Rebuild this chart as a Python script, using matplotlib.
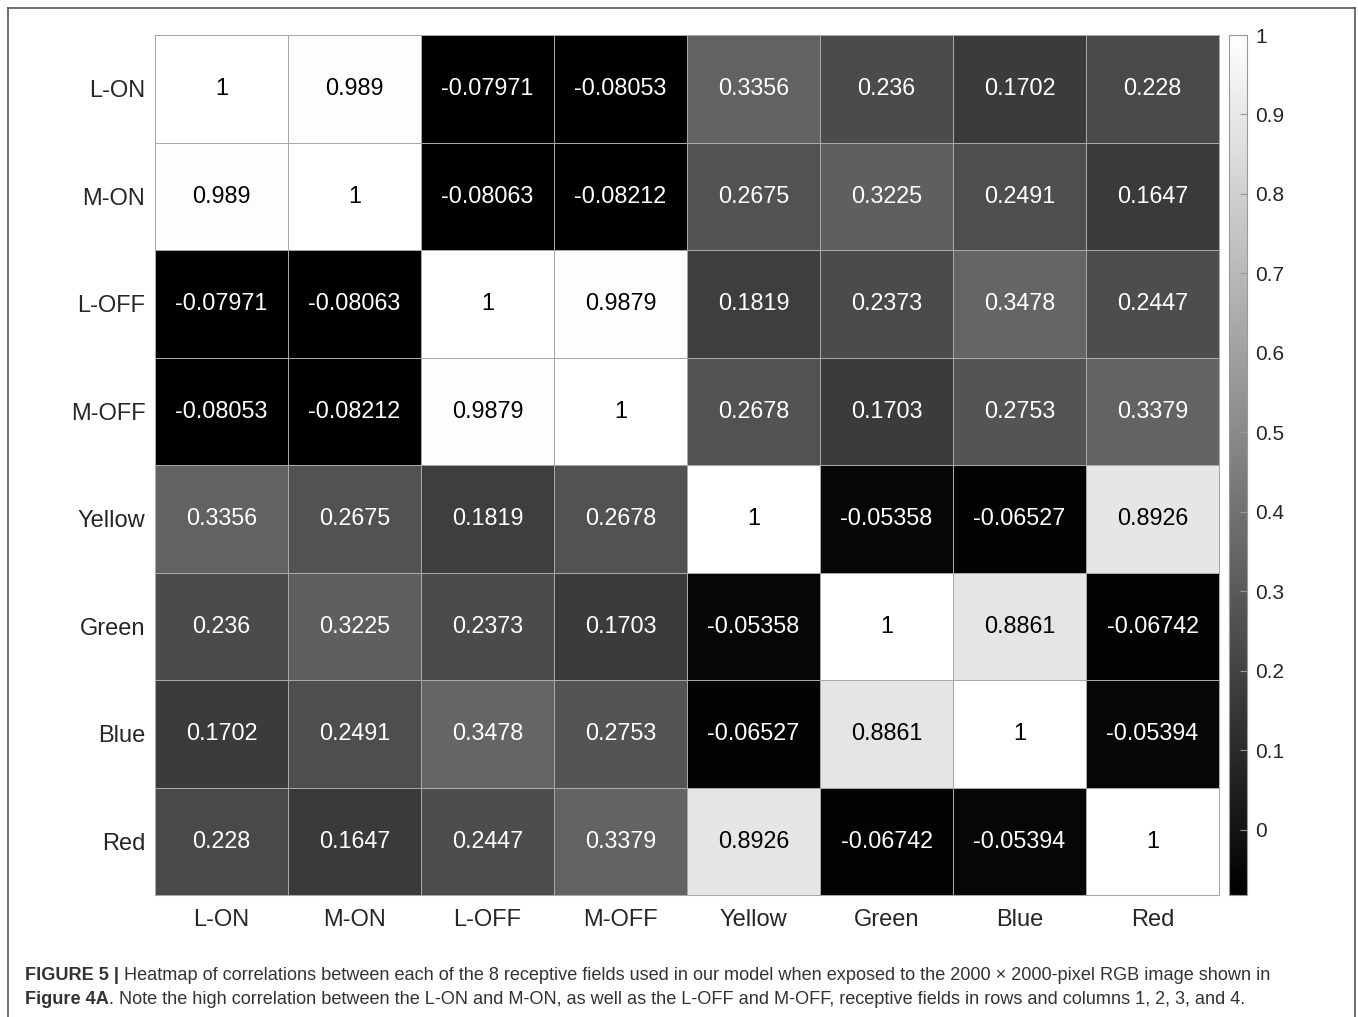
import matplotlib
matplotlib.use("Agg")

import numpy as np
import matplotlib.pyplot as plt
from matplotlib.lines import Line2D

fields = ["L-ON", "M-ON", "L-OFF", "M-OFF", "Yellow", "Green", "Blue", "Red"]

corr = np.array([
    [1, 0.989, -0.07971, -0.08053, 0.3356, 0.236, 0.1702, 0.228],
    [0.989, 1, -0.08063, -0.08212, 0.2675, 0.3225, 0.2491, 0.1647],
    [-0.07971, -0.08063, 1, 0.9879, 0.1819, 0.2373, 0.3478, 0.2447],
    [-0.08053, -0.08212, 0.9879, 1, 0.2678, 0.1703, 0.2753, 0.3379],
    [0.3356, 0.2675, 0.1819, 0.2678, 1, -0.05358, -0.06527, 0.8926],
    [0.236, 0.3225, 0.2373, 0.1703, -0.05358, 1, 0.8861, -0.06742],
    [0.1702, 0.2491, 0.3478, 0.2753, -0.06527, 0.8861, 1, -0.05394],
    [0.228, 0.1647, 0.2447, 0.3379, 0.8926, -0.06742, -0.05394, 1],
])

cbar_ticks = [0, 0.1, 0.2, 0.3, 0.4, 0.5, 0.6, 0.7, 0.8, 0.9, 1]

plt.rcParams["font.family"] = ["Liberation Sans", "DejaVu Sans"]

W, H = 1358, 1017
fig = plt.figure(figsize=(W / 100, H / 100), dpi=100)

ax = fig.add_axes([155 / W, 1 - 895 / H, 1064 / W, 860 / H])
cax = fig.add_axes([1229 / W, 1 - 895 / H, 18 / W, 860 / H])

vmin, vmax = corr.min(), corr.max()
n = len(fields)
im = ax.pcolormesh(np.arange(n + 1), np.arange(n + 1), corr, cmap="gray",
                   vmin=vmin, vmax=vmax, edgecolor="#a8a8a8", linewidth=0.55)
ax.set_xlim(0, n)
ax.set_ylim(n, 0)

for i in range(n):
    for j in range(n):
        v = corr[i, j]
        col = "black" if (v - vmin) / (vmax - vmin) > 0.55 else "white"
        ax.text(j + 0.5, i + 0.5, f"{v:.4g}", ha="center", va="center",
                fontsize=16.8, color=col)

ax.set_xticks(np.arange(n) + 0.5)
ax.set_yticks(np.arange(n) + 0.5)
ax.set_xticklabels(fields, fontsize=17, color="#262626")
ax.set_yticklabels(fields, fontsize=17, color="#262626")
ax.tick_params(axis="x", length=0, pad=10)
ax.tick_params(axis="y", length=0, pad=7)
for s in ax.spines.values():
    s.set_color("#a8a8a8")
    s.set_linewidth(0.75)

cb = fig.colorbar(im, cax=cax, ticks=cbar_ticks)
cb.ax.tick_params(direction="in", length=5, width=0.8, color="#999999",
                  labelsize=15, labelcolor="#262626", pad=6)
cb.ax.set_yticklabels([f"{t:g}" for t in cbar_ticks])
cb.outline.set_edgecolor("#999999")
cb.outline.set_linewidth(0.8)

# outer frame (open at the bottom)
frame_kw = dict(color="#555555", linewidth=1.2, transform=fig.transFigure)
fig.add_artist(Line2D([8 / W, 8 / W], [0, 1 - 8 / H], **frame_kw))
fig.add_artist(Line2D([8 / W, 1355 / W], [1 - 8 / H, 1 - 8 / H], **frame_kw))
fig.add_artist(Line2D([1355 / W, 1355 / W], [0, 1 - 8 / H], **frame_kw))

# caption with bold lead-in
cap_color = "#333333"
cap_size = 13.1
renderer = fig.canvas.get_renderer()
x0, y1, y2 = 25 / W, 1 - 975 / H, 1 - 1000 / H
t1 = fig.text(x0, y1, "FIGURE 5 | ", fontsize=cap_size, fontweight="bold",
              color=cap_color, va="center")
bb = t1.get_window_extent(renderer)
fig.text(bb.x1 / W, y1,
         "Heatmap of correlations between each of the 8 receptive fields used in our model "
         "when exposed to the 2000 \u00d7 2000-pixel RGB image shown in",
         fontsize=cap_size, color=cap_color, va="center")
t2 = fig.text(x0, y2, "Figure 4A", fontsize=cap_size, fontweight="bold",
              color=cap_color, va="center")
bb = t2.get_window_extent(renderer)
fig.text(bb.x1 / W, y2,
         ". Note the high correlation between the L-ON and M-ON, as well as the L-OFF and M-OFF, "
         "receptive fields in rows and columns 1, 2, 3, and 4.",
         fontsize=cap_size, color=cap_color, va="center")

fig.savefig("out.png", dpi=100)
